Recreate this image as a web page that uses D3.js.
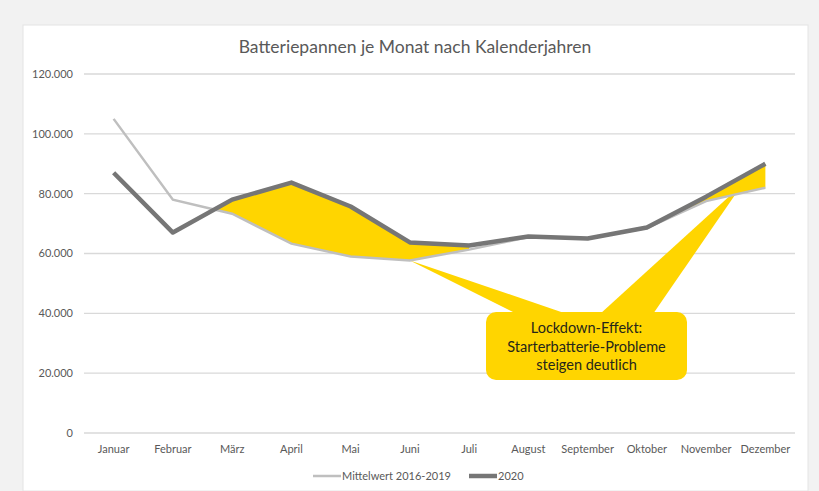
<!DOCTYPE html>
<meta charset="utf-8">
<style>
  body { margin: 0; background: #f2f2f2; }
  svg text { font-family: Lato, "Open Sans", sans-serif; fill: #595959; }
</style>
<script src="https://cdn.jsdelivr.net/npm/d3@7"></script>
<div id="chart"></div>
<script>
// data
var months = ["Januar", "Februar", "März", "April", "Mai", "Juni", "Juli",
              "August", "September", "Oktober", "November", "Dezember"];
var mittelwert = [105000, 78000, 73300, 63300, 59000, 57700, 61300, 65500, 65000, 68500, 77500, 82000];
var jahr2020   = [87000, 67000, 78000, 83700, 75700, 63700, 62700, 65700, 65000, 68700, 79000, 90000];
var yTicks = [0, 20000, 40000, 60000, 80000, 100000, 120000];
var calloutLines = ["Lockdown-Effekt:", "Starterbatterie-Probleme", "steigen deutlich"];

var W = 819, H = 491;
var margin = {top: 74, right: 24, bottom: 58, left: 84};

var svg = d3.select("#chart").append("svg")
    .attr("width", W)
    .attr("height", H);

// grey frame + white chart panel
svg.append("rect").attr("width", W).attr("height", H).attr("fill", "#f2f2f2");
svg.append("rect")
    .attr("x", 23).attr("y", 25)
    .attr("width", 785).attr("height", H - 25)
    .attr("fill", "#fff")
    .attr("stroke", "#e4e4e4");

var x = d3.scaleBand()
    .domain(months)
    .range([margin.left, W - margin.right]);

var y = d3.scaleLinear()
    .domain([0, 120000])
    .range([H - margin.bottom, margin.top]);

var cx = function(i) { return x(months[i]) + x.bandwidth() / 2; };
var fmt = function(v) { return v === 0 ? "0" : d3.format(",")(v).replace(/,/g, "."); };

// gridlines
svg.append("g")
  .selectAll("line")
  .data(yTicks)
  .join("line")
    .attr("x1", margin.left)
    .attr("x2", W - margin.right)
    .attr("y1", function(d) { return y(d); })
    .attr("y2", function(d) { return y(d); })
    .attr("stroke", "#d9d9d9")
    .attr("stroke-width", 1.3);

// y labels
svg.append("g")
  .selectAll("text")
  .data(yTicks)
  .join("text")
    .attr("x", 73)
    .attr("y", function(d) { return y(d); })
    .attr("dy", "0.35em")
    .attr("text-anchor", "end")
    .attr("font-size", 11)
    .text(fmt);

// x labels
svg.append("g")
  .selectAll("text")
  .data(months)
  .join("text")
    .attr("x", function(d, i) { return cx(i); })
    .attr("y", y(0) + 20)
    .attr("text-anchor", "middle")
    .attr("font-size", 11)
    .text(function(d) { return d; });

// title
svg.append("text")
    .attr("x", 415)
    .attr("y", 53)
    .attr("text-anchor", "middle")
    .attr("font-size", 17.5)
    .text("Batteriepannen je Monat nach Kalenderjahren");

// highlighted gap where 2020 runs above the average
function crossing(i) {
  // where the two lines cross between month i and i+1
  var d0 = jahr2020[i] - mittelwert[i], d1 = jahr2020[i + 1] - mittelwert[i + 1];
  var t = d0 / (d0 - d1);
  return {x: cx(i) + t * (cx(i + 1) - cx(i)), v: mittelwert[i] + t * (mittelwert[i + 1] - mittelwert[i])};
}
function gapPts(from, to, startCross) {
  var pts = [];
  if (startCross) { var c = crossing(from - 1); pts.push({x: c.x, lo: c.v, hi: c.v}); }
  for (var i = from; i <= to; i++) pts.push({x: cx(i), lo: mittelwert[i], hi: jahr2020[i]});
  return pts;
}
var gapArea = d3.area()
    .x(function(d) { return d.x; })
    .y0(function(d) { return y(d.lo); })
    .y1(function(d) { return y(d.hi); });

var yellow = "#ffd500";
svg.append("path").datum(gapPts(2, 6, true)).attr("d", gapArea).attr("fill", yellow);
svg.append("path").datum(gapPts(9, 11, false)).attr("d", gapArea).attr("fill", yellow);

// callout box with two pointers
var box = {x: 486, y: 312, w: 201, h: 68};
svg.append("path")
    .attr("d", d3.line()([[cx(5), y(mittelwert[5])], [517, box.y + 2], [567, box.y + 2]]))
    .attr("fill", yellow);
svg.append("path")
    .attr("d", d3.line()([[742, y(83000)], [600, box.y + 2], [653, box.y + 2]]))
    .attr("fill", yellow);
svg.append("rect")
    .attr("x", box.x).attr("y", box.y)
    .attr("width", box.w).attr("height", box.h)
    .attr("rx", 10)
    .attr("fill", yellow);
svg.append("g")
  .selectAll("text")
  .data(calloutLines)
  .join("text")
    .attr("x", box.x + box.w / 2)
    .attr("y", function(d, i) { return 333 + i * 18.5; })
    .attr("text-anchor", "middle")
    .attr("font-size", 14.5)
    .style("fill", "#26261a")
    .text(function(d) { return d; });

// lines
var line = d3.line()
    .x(function(d, i) { return cx(i); })
    .y(function(d) { return y(d); });

svg.append("path")
    .datum(mittelwert)
    .attr("d", line)
    .attr("fill", "none")
    .attr("stroke", "#bfbfbf")
    .attr("stroke-width", 2.5);

svg.append("path")
    .datum(jahr2020)
    .attr("d", line)
    .attr("fill", "none")
    .attr("stroke", "#767676")
    .attr("stroke-width", 4.5)
    .attr("stroke-linejoin", "round");

// legend
var legend = [
  {name: "Mittelwert 2016-2019", color: "#bfbfbf", w: 2.5, x: 313},
  {name: "2020", color: "#767676", w: 4.5, x: 469}
];
var lg = svg.append("g")
  .selectAll("g")
  .data(legend)
  .join("g")
    .attr("transform", function(d) { return "translate(" + d.x + "," + 476 + ")"; });
lg.append("line")
    .attr("x1", 0).attr("x2", 28)
    .attr("stroke", function(d) { return d.color; })
    .attr("stroke-width", function(d) { return d.w; });
lg.append("text")
    .attr("x", 29)
    .attr("dy", "0.35em")
    .attr("font-size", 11)
    .text(function(d) { return d.name; });
</script>
